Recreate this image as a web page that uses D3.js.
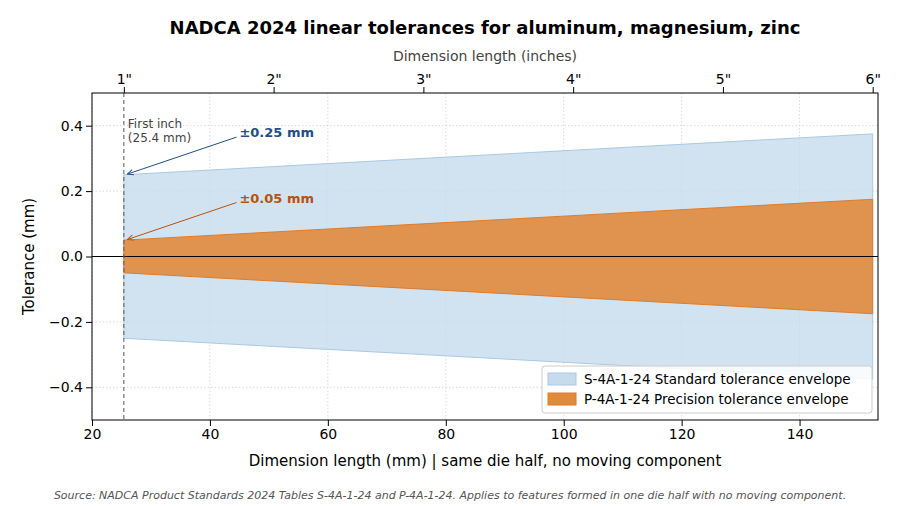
<!DOCTYPE html>
<html><head><meta charset="utf-8">
<script src="https://cdn.jsdelivr.net/npm/d3@7"></script>
<style>body{margin:0;background:#fff;font-family:"DejaVu Sans",sans-serif}</style>
</head><body><svg id="c" width="900" height="506"></svg>
<script>
// data (mm)
const lengthsMm = [25.4, 50.8, 76.2, 101.6, 127.0, 152.4];
const standardTol = [0.25, 0.275, 0.3, 0.325, 0.35, 0.375];
const precisionTol = [0.05, 0.075, 0.1, 0.125, 0.15, 0.175];
const inchLabels = ['1"', '2"', '3"', '4"', '5"', '6"'];
const xTicks = [20, 40, 60, 80, 100, 120, 140];
const yTicks = [-0.4, -0.2, 0, 0.2, 0.4];

const svg = d3.select("#c");
const m = {left: 92, right: 878, top: 93, bottom: 420};
const x = d3.scaleLinear().domain([20, 153.3]).range([m.left, m.right]);
const y = d3.scaleLinear().domain([-0.5, 0.5]).range([m.bottom, m.top]);

const pts = lengthsMm.map((d, i) => ({x: d, s: standardTol[i], p: precisionTol[i]}));

// grid
const g = svg.append("g");
xTicks.forEach(t => g.append("line").attr("x1", x(t)).attr("x2", x(t)).attr("y1", m.top).attr("y2", m.bottom));
yTicks.forEach(t => g.append("line").attr("y1", y(t)).attr("y2", y(t)).attr("x1", m.left).attr("x2", m.right));
g.selectAll("line").attr("stroke", "#d0d0d0").attr("stroke-dasharray", "1.5,2").attr("stroke-width", 0.8);

const area = key => d3.area().x(d => x(d.x)).y0(d => y(-d[key])).y1(d => y(d[key]));
svg.append("path").datum(pts).attr("d", area("s")).attr("fill", "#c6dcec").attr("fill-opacity", 0.8)
  .attr("stroke", "#a9c9e2").attr("stroke-width", 1);
svg.append("path").datum(pts).attr("d", area("p")).attr("fill", "#e08a3c").attr("fill-opacity", 0.9)
  .attr("stroke", "#e07b2a").attr("stroke-width", 1);

// zero line and first inch
svg.append("line").attr("x1", m.left).attr("x2", m.right).attr("y1", y(0)).attr("y2", y(0)).attr("stroke", "#000").attr("stroke-width", 1.2);
svg.append("line").attr("x1", x(25.4)).attr("x2", x(25.4)).attr("y1", m.top).attr("y2", m.bottom)
  .attr("stroke", "#666").attr("stroke-dasharray", "4,3").attr("stroke-width", 1.1);
svg.append("text").attr("x", x(25.4) + 4).attr("y", 128).attr("font-size", 12).attr("fill", "#444").text("First inch");
svg.append("text").attr("x", x(25.4) + 4).attr("y", 142).attr("font-size", 12).attr("fill", "#444").text("(25.4 mm)");

// annotations
const defs = svg.append("defs");
[["a1", "#1f4e8c"], ["a2", "#b5520f"]].forEach(([id, c]) => defs.append("marker").attr("id", id)
  .attr("viewBox", "0 0 10 10").attr("refX", 9).attr("refY", 5).attr("markerWidth", 7).attr("markerHeight", 7).attr("orient", "auto")
  .append("path").attr("d", "M0,1 L9,5 L0,9").attr("fill", "none").attr("stroke", c).attr("stroke-width", 1.3));
svg.append("line").attr("x1", x(44.5)).attr("y1", y(0.365)).attr("x2", x(26)).attr("y2", y(0.252))
  .attr("stroke", "#1f4e8c").attr("marker-end", "url(#a1)");
svg.append("text").attr("x", x(45)).attr("y", y(0.365)).attr("font-size", 13).attr("font-weight", "bold").attr("fill", "#1f4e8c").text("±0.25 mm");
svg.append("line").attr("x1", x(44.5)).attr("y1", y(0.165)).attr("x2", x(26)).attr("y2", y(0.052))
  .attr("stroke", "#b5520f").attr("marker-end", "url(#a2)");
svg.append("text").attr("x", x(45)).attr("y", y(0.165)).attr("font-size", 13).attr("font-weight", "bold").attr("fill", "#b5520f").text("±0.05 mm");

// axes
const bx = svg.append("g").attr("transform", `translate(0,${m.bottom})`).call(d3.axisBottom(x).tickValues(xTicks).tickSizeOuter(0));
const ly = svg.append("g").attr("transform", `translate(${m.left},0)`).call(d3.axisLeft(y).tickValues(yTicks).tickFormat(d3.format(".1f")).tickSizeOuter(0));
const tx = svg.append("g").attr("transform", `translate(0,${m.top})`).call(d3.axisTop(x).tickValues(lengthsMm).tickFormat((d, i) => inchLabels[i]).tickSizeOuter(0));
[bx, ly, tx].forEach(a => { a.selectAll("text").attr("font-size", 14).attr("font-family", "DejaVu Sans").attr("fill", "#000"); a.select(".domain").remove(); });
svg.append("rect").attr("x", m.left).attr("y", m.top).attr("width", m.right - m.left).attr("height", m.bottom - m.top)
  .attr("fill", "none").attr("stroke", "#000").attr("stroke-width", 1);

// legend
const lg = svg.append("g").attr("transform", "translate(542,366)");
lg.append("rect").attr("width", 330).attr("height", 47).attr("fill", "#fff").attr("fill-opacity", 0.85).attr("stroke", "#ccc").attr("rx", 3);
[["S-4A-1-24 Standard tolerance envelope", "#c6dcec", "#a9c9e2"], ["P-4A-1-24 Precision tolerance envelope", "#e08a3c", "#e07b2a"]].forEach(([t, f, s], i) => {
  lg.append("rect").attr("x", 6).attr("y", 7 + i * 20).attr("width", 28).attr("height", 12).attr("fill", f).attr("stroke", s);
  lg.append("text").attr("x", 42).attr("y", 18 + i * 20).attr("font-size", 13.5).text(t);
});

// titles
svg.append("text").attr("x", 485).attr("y", 34).attr("text-anchor", "middle").attr("font-size", 18).attr("font-weight", "bold").text("NADCA 2024 linear tolerances for aluminum, magnesium, zinc");
svg.append("text").attr("x", 485).attr("y", 61).attr("text-anchor", "middle").attr("font-size", 14).attr("fill", "#444").text("Dimension length (inches)");
svg.append("text").attr("x", 485).attr("y", 466).attr("text-anchor", "middle").attr("font-size", 15).text("Dimension length (mm)  |  same die half, no moving component");
svg.append("text").attr("transform", `translate(34,${y(0)}) rotate(-90)`).attr("text-anchor", "middle").attr("font-size", 15).text("Tolerance (mm)");
svg.append("text").attr("x", 450).attr("y", 499).attr("text-anchor", "middle").attr("font-size", 11).attr("font-style", "italic").attr("fill", "#555")
  .text("Source: NADCA Product Standards 2024 Tables S-4A-1-24 and P-4A-1-24. Applies to features formed in one die half with no moving component.");
</script></body></html>
